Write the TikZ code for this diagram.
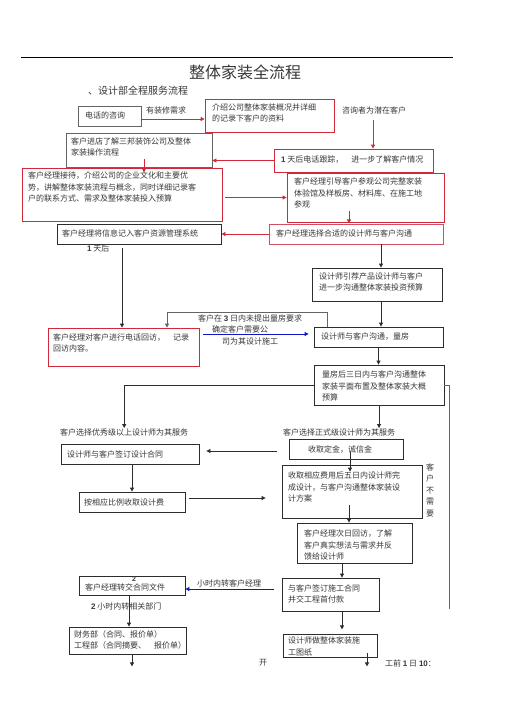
\documentclass[tikz,border=0pt]{standalone}
\usepackage{fontspec}
\setmainfont{Noto Sans CJK SC}
\newfontfamily\lat{Liberation Sans}
\usetikzlibrary{arrows.meta,fit}
\definecolor{rd}{RGB}{210,40,55}
\definecolor{pk}{RGB}{205,80,100}
\definecolor{gy}{RGB}{100,100,100}
\definecolor{bk}{RGB}{45,45,45}
\definecolor{bl}{RGB}{20,20,200}
\definecolor{tx}{RGB}{55,55,55}
\newcommand\bn[1]{{\lat\bfseries #1}}
\tikzset{
  box/.style={draw=#1, line width=0.8pt, inner sep=0pt},
  txt/.style={anchor=west, inner sep=0pt, align=left, text=tx, font=\fontsize{8}{11.5}\selectfont},
  arr/.style={draw=#1, line width=0.8pt, -{Triangle[length=4pt,width=4pt]}},
  ln/.style={draw=#1, line width=0.8pt},
}
\begin{document}
\begin{tikzpicture}[x=1pt,y=-1pt]
\useasboundingbox[fill=white] (0,0) rectangle (505,715);
% header
\draw[line width=0.8pt] (21,57) -- (453,57);
\node[text=tx, font=\fontsize{16}{16}\selectfont, inner sep=0pt] (title) at (245,72) {整体家装全流程};
\node[anchor=west, text=tx, font=\fontsize{10}{12}\selectfont, inner sep=0pt] (sub) at (88,91) {、设计部全程服务流程};

% boxes
\node[box=gy, fit={(78,106) (141,126)}] (tel) {};
\node[txt] (tel-t) at (85,115) {电话的咨询};
\node[txt] (need) at (146,110) {有装修需求};
\node[box=rd, fit={(205,99) (334,132)}] (intro) {};
\node[txt] (intro-t) at (212,113) {介绍公司整体家装概况并详细\\的记录下客户的资料};
\node[txt] (potential) at (342,110) {咨询者为潜在客户};
\coordinate (c1) at (373,120);

\node[box=gy, fit={(66,133) (212,167)}] (store) {};
\node[txt] (store-t) at (71,147) {客户进店了解三邦装饰公司及整体\\家装操作流程};
\node[box=rd, fit={(274,149) (433,172)}] (follow) {};
\node[txt] (follow-t) at (281,160) {\bn{1} 天后电话跟踪，\quad 进一步了解客户情况};

\node[box=rd, fit={(22,168) (222,221)}] (recep) {};
\node[txt] (recep-t) at (28,187) {客户经理接待，介绍公司的企业文化和主要优\\势，讲解整体家装流程与概念，同时详细记录客\\户的联系方式、需求及整体家装投入预算};
\node[box=rd, fit={(287,173) (444,222)}] (visit) {};
\node[txt] (visit-t) at (294,193) {客户经理引导客户参观公司完整家装\\体验馆及样板房、材料库、在施工地\\参观};

\node[box=bk, fit={(57,224) (221,244)}] (record) {};
\node[txt] (record-t) at (62,233) {客户经理将信息记入客户资源管理系统};
\node[box=pk, fit={(269,224) (443,244)}] (choose) {};
\node[txt] (choose-t) at (276,233) {客户经理选择合适的设计师与客户沟通};
\node[txt] (oneday) at (87,248) {\bn{1} 天后};

\node[box=bk, fit={(312,268) (442,301)}] (recom) {};
\node[txt] (recom-t) at (319,282) {设计师引荐产品设计师与客户\\进一步沟通整体家装投资预算};
\node[box=bk, fit={(314,327) (443,347)}] (measure) {};
\node[txt] (measure-t) at (321,337) {设计师与客户沟通，量房};
\node[box=rd, fit={(48,328) (199,366)}] (callback) {};
\node[txt] (callback-t) at (53,343) {客户经理对客户进行电话回访，\quad 记录\\回访内容。};
\node[txt] (three) at (198,318) {客户在 \bn{3} 日内未提出量房要求};
\node[txt] (confirm1) at (212,329) {确定客户需要公};
\node[txt] (confirm2) at (222,341) {司为其设计施工};
\coordinate (b1) at (203,334);

\node[box=bk, fit={(314,365) (444,405)}] (plan) {};
\node[txt] (plan-t) at (322,386) {量房后三日内与客户沟通整体\\家装平面布置及整体家装大概\\预算};
\node[txt] (optA) at (60,432) {客户选择优秀级以上设计师为其服务};
\node[txt] (optB) at (283,432) {客户选择正式级设计师为其服务};
\coordinate (rend) at (449,609);

\node[box=bk, fit={(61,444) (199,464)}] (contract) {};
\node[txt] (contract-t) at (67,454) {设计师与客户签订设计合同};
\node[box=bk, fit={(289,439) (403,459)}] (deposit) {};
\node[txt, anchor=center] (deposit-t) at (340,450) {收取定金，诚信金};
\coordinate (c2) at (277,451);

\node[box=bk, fit={(79,492) (185,512)}] (fee) {};
\node[txt] (fee-t) at (84,502) {按相应比例收取设计费};
\node[box=bk, fit={(282,465) (422,518)}] (design) {};
\node[txt] (design-t) at (288,487) {收取相应费用后五日内设计师完\\成设计，与客户沟通整体家装设\\计方案};
\node[txt, anchor=center, align=center] (noneed) at (430,490) {客\\户\\不\\需\\要};

\node[box=bk, fit={(297,523) (412,563)}] (revisit) {};
\node[txt] (revisit-t) at (304,545) {客户经理次日回访，了解\\客户真实想法与需求并反\\馈给设计师};

\node[box=bk, fit={(282,578) (379,611)}] (sign) {};
\node[txt] (sign-t) at (288,594) {与客户签订施工合同\\并交工程首付款};
\node[txt] (tohour) at (197,583) {小时内转客户经理};
\coordinate (b2) at (274,589);
\node[box=bk, fit={(79,576) (185,595)}] (transfer) {};
\node[txt] (transfer-t) at (85,587) {客户经理转交合同文件};
\node[txt, font=\fontsize{7}{8}\selectfont] (two) at (132,579.5) {\bn{2}};
\node[txt] (twohour) at (91,606) {\bn{2} 小时内转相关部门};

\node[box=bk, fit={(69,627) (186,654)}] (finance) {};
\node[txt] (finance-t) at (74,640) {财务部（合同、报价单）\\工程部（合同摘要、\quad 报价单）};
\node[box=bk, fit={(283,634) (377,657)}] (drawing) {};
\node[txt] (drawing-t) at (288,646.5) {设计师做整体家装施\\工图纸};
\node[txt, anchor=center] (kai) at (263,663) {开};
\node[txt] (before) at (385,663) {工前 \bn{1} 日 \bn{10}：};

% connectors
\draw[arr=rd] ([yshift=-3pt]tel.east) -- ([yshift=-3pt]tel.east -| intro.west);
\draw[arr=rd] (c1) -- (c1 |- follow.north);
\draw[arr=rd] (follow.west) -- (follow.west -| store.east);
\draw[arr=rd] ([xshift=5pt,yshift=8pt]store.south) -- ([xshift=5pt,yshift=-5pt]store.south);
\draw[arr=rd, shorten <=3pt] ([yshift=-3pt]recep.east) -- ([yshift=-3pt]recep.east -| visit.west);
\draw[arr=rd] ([xshift=-16.5pt,yshift=11pt]visit.south) -- ([xshift=-16.5pt,yshift=-1pt]visit.south);
\draw[arr=rd] (choose.west) -- (choose.west -| record.east);
\draw[arr=bk] ([xshift=-17pt,yshift=-4pt]record.south) -- ([xshift=-17pt]record.south |- callback.north);
\draw[arr=bk] ([xshift=4pt]recom.north |- choose.south) -- ([xshift=4pt]recom.north);
\draw[arr=bk] ([xshift=4pt]recom.south) -- ([xshift=4pt]recom.south |- measure.north);
\draw[arr=gy] ([xshift=-51.5pt]measure.north) -- ++(0,-14) -| ([xshift=43.5pt]callback.north);
\draw[arr=bl, shorten >=5pt] (b1) -- (b1 -| measure.west);
\draw[arr=bk] (measure.south) -- (measure.south |- plan.north);
\draw[arr=bk] (plan.west) -| (optA.north);
\draw[arr=bk] (plan.south) -- (plan.south |- optB.north);
\draw[ln=gy] (plan.east) -| (rend);
\draw[arr=bk, shorten >=7pt] (c2) -- (c2 -| contract.east);
\draw[arr=bk] ([xshift=2pt]contract.south) -- ([xshift=2pt]contract.south |- fee.north);
\draw[arr=bk, shorten <=4pt, shorten >=16pt] ([yshift=4pt]fee.east) -- ([yshift=4pt]fee.east -| design.west);
\draw[arr=bk] ([xshift=4pt,yshift=7pt]deposit.south) -- ([xshift=4pt,yshift=-7pt]deposit.south |- design.north);
\draw[arr=bk] ([xshift=-3pt,yshift=13pt]design.south) -- ([xshift=-3pt]design.south |- revisit.north);
\draw[arr=bk] ([xshift=-12.5pt]revisit.south) -- ([xshift=-12.5pt]revisit.south |- sign.north);
\draw[arr=bl] (b2) -- (b2 -| transfer.east);
\draw[arr=bk] ([xshift=-3pt]transfer.south) -- ([xshift=-3pt]transfer.south |- finance.north);
\draw[arr=bk] ([xshift=11.5pt]sign.south) -- ++(0,18);
\draw[arr=bk] ([xshift=4.5pt]finance.south) -- ++(0,12);
\draw[arr=bk] ([xshift=37pt,yshift=4pt]drawing.south) -- ++(0,13);
\end{tikzpicture}
\end{document}
